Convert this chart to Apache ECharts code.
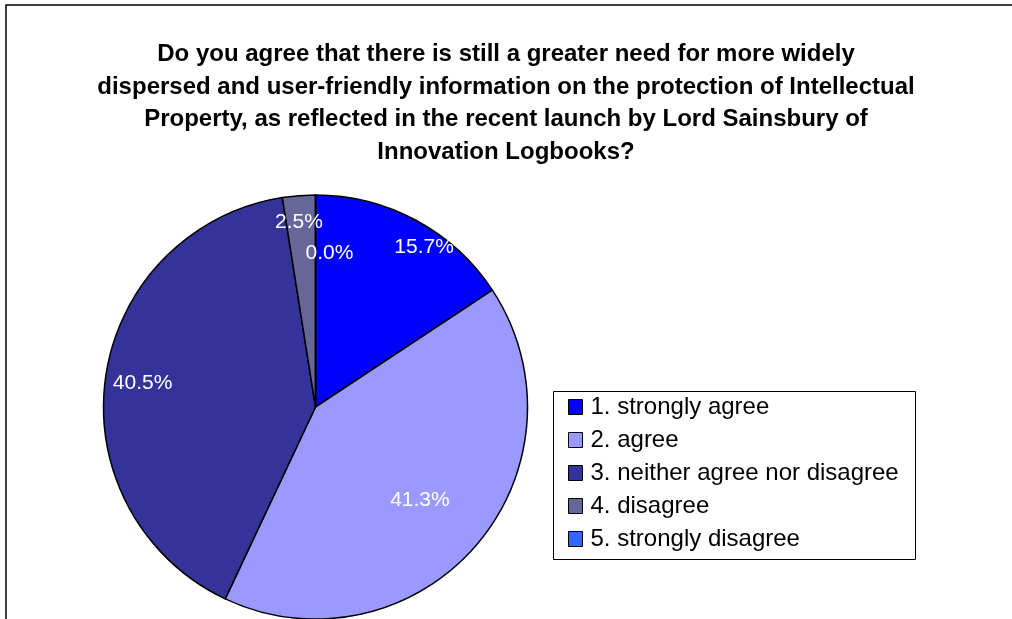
<!DOCTYPE html>
<html>
<head>
<meta charset="utf-8">
<script src="https://cdn.jsdelivr.net/npm/echarts@6/dist/echarts.min.js"></script>
<style>
  html, body { margin: 0; padding: 0; background: #fff; }
  #chart { width: 1012px; height: 619px; }
</style>
</head>
<body>
<div id="chart"></div>
<script>
// Survey answers (percent of respondents)
const categories = [
  '1. strongly agree',
  '2. agree',
  '3. neither agree nor disagree',
  '4. disagree',
  '5. strongly disagree'
];
const shares = [15.7, 41.3, 40.5, 2.5, 0.0];

const titleText = 'Do you agree that there is still a greater need for more widely\n' +
  'dispersed and user-friendly information on the protection of Intellectual\n' +
  'Property, as reflected in the recent launch by Lord Sainsbury of\n' +
  'Innovation Logbooks?';

// Slice fills and label nudges away from the default inside position
const sliceColors = ['#0000FF', '#9999FF', '#333399', '#666699', '#3366FF'];
const labelOffsets = [[57, -64], [22, 22], [-65, -8], [-8, -76], [14, -45]];

const FONT = '"Liberation Sans", Arial, sans-serif';

const chart = echarts.init(document.getElementById('chart'), null, { renderer: 'canvas' });

chart.setOption({
  animation: false,
  backgroundColor: '#ffffff',
  title: {
    text: titleText,
    left: 'center',
    top: 33,
    textStyle: {
      fontFamily: FONT,
      fontWeight: 'bold',
      fontSize: 24,
      lineHeight: 32.7,
      color: '#000'
    }
  },
  legend: {
    orient: 'vertical',
    left: 568,
    top: 395,
    padding: 0,
    itemGap: 9,
    itemWidth: 14,
    itemHeight: 15,
    icon: 'rect',
    itemStyle: { borderColor: '#000', borderWidth: 1 },
    textStyle: {
      fontFamily: FONT,
      fontSize: 24,
      color: '#000',
      padding: [0, 0, 0, 3]
    },
    data: categories
  },
  graphic: [
    {
      type: 'rect',
      silent: true,
      z: -1,
      shape: { x: 6, y: 5, width: 1200, height: 800 },
      style: { fill: 'none', stroke: '#000', lineWidth: 1.5 }
    },
    {
      type: 'rect',
      silent: true,
      z: -1,
      shape: { x: 553.5, y: 391.5, width: 362, height: 168 },
      style: { fill: '#fff', stroke: '#000', lineWidth: 1 }
    }
  ],
  series: [{
    type: 'pie',
    center: [315.5, 407],
    radius: 212,
    startAngle: 90,
    clockwise: true,
    avoidLabelOverlap: false,
    stillShowZeroSum: true,
    minShowLabelAngle: -1,
    itemStyle: { borderColor: '#000', borderWidth: 1.5 },
    label: {
      show: true,
      position: 'inside',
      fontFamily: FONT,
      fontSize: 21,
      color: '#fff',
      formatter: p => p.value.toFixed(1) + '%'
    },
    labelLine: { show: false },
    emphasis: { disabled: true },
    data: categories.map((name, i) => ({
      name: name,
      value: shares[i],
      itemStyle: { color: sliceColors[i] },
      label: { offset: labelOffsets[i] }
    }))
  }]
});
</script>
</body>
</html>
